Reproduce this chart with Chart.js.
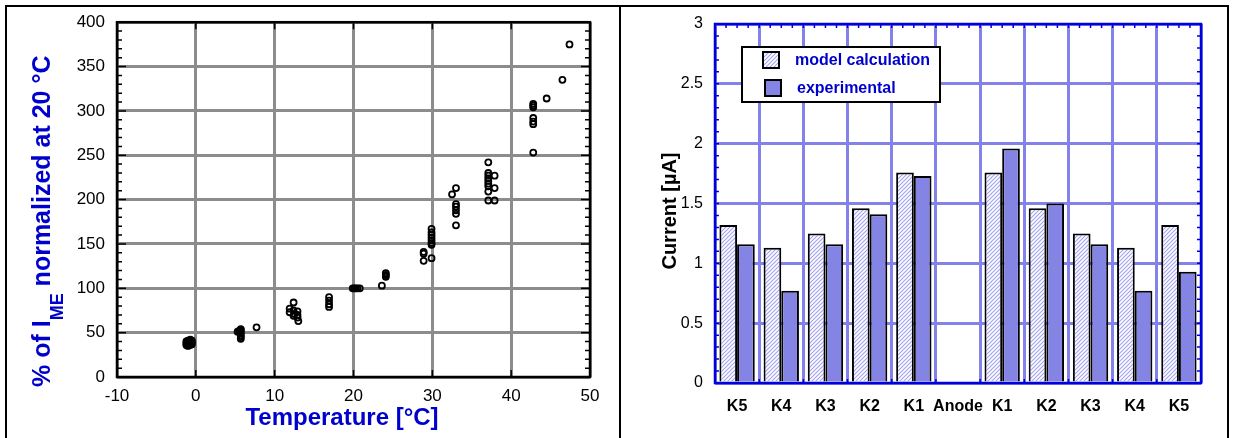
<!DOCTYPE html>
<html lang="en">
  <head>
    <meta charset="UTF-8" />
    <title>Temperature dependence and electrode currents</title>
    <style>
      body { margin: 0; background: #fff; width: 1233px; height: 438px; overflow: hidden; position: relative; }
      .panel { position: absolute; top: 5px; height: 450px; border: 2px solid #000; box-sizing: border-box; }
      canvas { position: absolute; top: 0; }
    </style>
  </head>
  <body>
    <div class="panel" style="left: 5px; width: 616px"></div>
    <div class="panel" style="left: 619px; width: 610px"></div>
    <canvas id="tempChart" width="619" height="438" style="left: 0"></canvas>
    <canvas id="currentChart" width="612" height="438" style="left: 621px"></canvas>
  </body>
  <script src="https://cdn.jsdelivr.net/npm/chart.js"></script>
  <script>
    // left panel: measured points (temperature in °C, % of I_ME normalized at 20 °C)
    var tempC = [
      -1.2, -1.2, -1.2, -1.0, -1.0, -1.0, -1.0, -0.7, -0.7, -0.7, -0.7, -0.5, -0.5, -0.5,
      5.3, 5.5, 5.7, 5.7, 5.7, 5.7, 5.7, 5.7, 5.7, 7.7,
      12.4, 11.9, 11.9, 12.4, 12.5, 12.4, 12.9, 12.9, 12.9, 13.0,
      16.9, 16.9, 16.9, 16.9,
      19.9, 20.1, 20.3, 20.5, 20.8,
      23.6, 24.1, 24.1, 24.1,
      28.9, 28.9, 28.9, 29.9,
      29.9, 29.9, 29.9, 29.9, 29.9, 29.9, 29.9,
      32.5, 33.0, 33.0, 33.0, 33.0, 33.0, 33.0,
      37.1, 37.1, 37.1, 37.1, 37.1, 37.1, 37.1, 37.1, 37.1, 37.9, 37.9, 37.9,
      42.8, 42.8, 42.8, 42.8, 42.8, 42.8, 42.8,
      44.5, 46.5, 47.4
    ];
    var pctNorm = [
      36, 38, 40, 35, 37, 39, 41, 36, 38, 40, 42, 37, 39, 41,
      51, 52, 54, 53, 51, 49, 47, 45, 43, 56,
      84, 77, 73, 75, 71, 69, 74, 70, 67, 63,
      90, 86, 82, 79,
      100, 100, 100, 100, 100,
      103, 117, 115, 113,
      141, 139, 131, 134,
      167, 163, 160, 157, 154, 151, 149,
      206, 213, 195, 192, 188, 184, 171,
      242, 230, 227, 224, 221, 218, 215, 209, 199, 227, 213, 199,
      308, 306, 304, 292, 288, 285, 253,
      314, 335, 375
    ];

    // right panel: electrode currents in µA
    var electrodes = ["K5", "K4", "K3", "K2", "K1", "Anode", "K1", "K2", "K3", "K4", "K5"];
    var modelCalc = [1.32, 1.13, 1.25, 1.46, 1.76, 0, 1.76, 1.46, 1.25, 1.13, 1.32];
    var experimental = [1.16, 0.77, 1.16, 1.41, 1.73, 0, 1.96, 1.5, 1.16, 0.77, 0.93];

    Chart.defaults.font.family = 'Arial, "Liberation Sans", sans-serif';
    Chart.defaults.color = "#000";

    var FONT = 'Arial, "Liberation Sans", sans-serif';
    var BLUE = "#0000cc";

    // ---------- left chart ----------
    var tempFrame = {
      id: "tempFrame",
      afterDraw(chart) {
        var ctx = chart.ctx, a = chart.chartArea, x = chart.scales.x, y = chart.scales.y;
        ctx.save();
        ctx.strokeStyle = "#000";
        ctx.lineWidth = 1.5;
        ctx.beginPath();
        for (var v = 10; v < 400; v += 10) {
          var py = y.getPixelForValue(v);
          var len = v % 50 === 0 ? 9 : 5;
          ctx.moveTo(a.left, py); ctx.lineTo(a.left + len, py);
          ctx.moveTo(a.right, py); ctx.lineTo(a.right - len, py);
        }
        for (var t = 0; t < 50; t += 10) {
          var px = x.getPixelForValue(t);
          ctx.moveTo(px, a.top); ctx.lineTo(px, a.top + 7);
          ctx.moveTo(px, a.bottom); ctx.lineTo(px, a.bottom - 7);
        }
        ctx.stroke();
        ctx.lineWidth = 2.5;
        ctx.strokeRect(a.left, a.top, a.right - a.left, a.bottom - a.top);

        // axis titles
        ctx.fillStyle = BLUE;
        ctx.textBaseline = "alphabetic";
        ctx.textAlign = "center";
        ctx.font = "bold 24px " + FONT;
        ctx.fillText("Temperature [°C]", 342, 425);

        ctx.translate(50, 387);
        ctx.rotate(-Math.PI / 2);
        ctx.textAlign = "left";
        var big = "bold 25px " + FONT, small = "bold 18px " + FONT;
        var pos = 0;
        ctx.font = big;
        ctx.fillText("% of I", pos, 0);
        pos += ctx.measureText("% of I").width;
        ctx.font = small;
        ctx.fillText("ME", pos, 13);
        pos += ctx.measureText("ME").width;
        ctx.font = big;
        ctx.fillText(" normalized at 20 °C", pos, 0);
        ctx.restore();
      },
    };

    var tempPoints = tempC.map(function (t, i) { return { x: t, y: pctNorm[i] }; });

    new Chart(document.getElementById("tempChart"), {
      type: "scatter",
      data: {
        datasets: [
          {
            data: tempPoints,
            pointRadius: 3,
            borderWidth: 1.8,
            borderColor: "#000",
            backgroundColor: "rgba(0,0,0,0)",
          },
        ],
      },
      options: {
        responsive: false,
        animation: false,
        events: [],
        layout: { padding: { top: 22, right: 29, left: 0, bottom: 0 } },
        plugins: { legend: { display: false }, tooltip: { enabled: false } },
        scales: {
          x: {
            type: "linear",
            min: -10,
            max: 50,
            ticks: { stepSize: 10, padding: 9, font: { size: 17 } },
            grid: { color: "#8c8c8c", lineWidth: 3, drawTicks: false },
            border: { display: false },
            afterFit: function (s) { s.height = 61; },
          },
          y: {
            min: 0,
            max: 400,
            ticks: { stepSize: 50, padding: 12, font: { size: 17 } },
            grid: { color: "#8c8c8c", lineWidth: 3, drawTicks: false },
            border: { display: false },
            afterFit: function (s) { s.width = 117; },
          },
        },
      },
      plugins: [tempFrame],
    });

    // ---------- right chart ----------
    function hatchPattern() {
      var c = document.createElement("canvas");
      c.width = 4; c.height = 4;
      var g = c.getContext("2d");
      g.fillStyle = "#fff";
      g.fillRect(0, 0, 4, 4);
      g.strokeStyle = "#a4a4ee";
      g.lineWidth = 1.2;
      g.beginPath();
      g.moveTo(0, 4); g.lineTo(4, 0);
      g.moveTo(-1, 1); g.lineTo(1, -1);
      g.moveTo(3, 5); g.lineTo(5, 3);
      g.stroke();
      return g.createPattern(c, "repeat");
    }

    var currentFrame = {
      id: "currentFrame",
      afterDatasetsDraw(chart) {
        var ctx = chart.ctx, a = chart.chartArea, y = chart.scales.y;
        var n = electrodes.length, w = (a.right - a.left) / n;
        ctx.save();
        ctx.strokeStyle = "#0000dd";
        ctx.lineWidth = 1.5;
        ctx.beginPath();
        for (var v = 1; v < 30; v++) {
          var py = y.getPixelForValue(v / 10);
          ctx.moveTo(a.left, py); ctx.lineTo(a.left + 4, py);
          ctx.moveTo(a.right, py); ctx.lineTo(a.right - 4, py);
        }
        for (var k = 1; k < n * 4; k++) {
          var px = a.left + (w * k) / 4;
          ctx.moveTo(px, a.top); ctx.lineTo(px, a.top + 4);
          if (k % 4 === 0) { ctx.moveTo(px, a.bottom); ctx.lineTo(px, a.bottom - 4); }
        }
        ctx.stroke();
        ctx.lineWidth = 2.5;
        ctx.strokeRect(a.left, a.top, a.right - a.left, a.bottom - a.top);
        ctx.restore();
      },
      afterDraw(chart) {
        var ctx = chart.ctx, a = chart.chartArea;
        ctx.save();
        // y title
        ctx.fillStyle = "#000";
        ctx.font = "bold 20px " + FONT;
        ctx.textAlign = "center";
        ctx.textBaseline = "middle";
        ctx.translate(49, 211);
        ctx.rotate(-Math.PI / 2);
        ctx.fillText("Current [µA]", 0, 0);
        ctx.setTransform(1, 0, 0, 1, 0, 0);

        // legend box inside the plot
        var bx = a.left + 27, by = a.top + 23, bw = 198, bh = 55;
        ctx.fillStyle = "#fff";
        ctx.fillRect(bx, by, bw, bh);
        ctx.strokeStyle = "#000";
        ctx.lineWidth = 2;
        ctx.strokeRect(bx, by, bw, bh);
        ctx.textAlign = "left";
        ctx.font = "bold 16px " + FONT;
        chart.data.datasets.forEach(function (ds, i) {
          var sx = bx + 21 + i * 2, sy = by + 5 + i * 28;
          ctx.fillStyle = ds.backgroundColor;
          ctx.fillRect(sx, sy, 16, 16);
          ctx.strokeStyle = "#000";
          ctx.strokeRect(sx, sy, 16, 16);
          ctx.fillStyle = BLUE;
          ctx.fillText(ds.label, bx + 53 + i * 2, sy + 9);
        });
        ctx.restore();
      },
    };

    new Chart(document.getElementById("currentChart"), {
      type: "bar",
      data: {
        labels: electrodes,
        datasets: [
          {
            label: "model calculation",
            data: modelCalc,
            backgroundColor: hatchPattern(),
            borderColor: "#000",
            borderWidth: 2,
          },
          {
            label: "experimental",
            data: experimental,
            backgroundColor: "#8484e4",
            borderColor: "#000",
            borderWidth: 2,
          },
        ],
      },
      options: {
        responsive: false,
        animation: false,
        events: [],
        categoryPercentage: 0.8,
        barPercentage: 1.0,
        layout: { padding: { top: 24, right: 32, left: 0, bottom: 0 } },
        plugins: { legend: { display: false }, tooltip: { enabled: false } },
        scales: {
          x: {
            ticks: {
              padding: 14,
              maxRotation: 0,
              minRotation: 0,
              autoSkip: false,
              font: { size: 16, weight: "bold" },
            },
            grid: { color: "#8282ea", lineWidth: 3, drawTicks: false },
            border: { display: false },
            afterFit: function (s) { s.height = 55; },
          },
          y: {
            min: 0,
            max: 3,
            ticks: {
              stepSize: 0.5,
              padding: 12,
              font: { size: 16 },
              callback: function (v) { return String(v); },
            },
            grid: { color: "#8282ea", lineWidth: 3, drawTicks: false },
            border: { display: false },
            afterFit: function (s) { s.width = 94; },
          },
        },
      },
      plugins: [currentFrame],
    });
  </script>
</html>
